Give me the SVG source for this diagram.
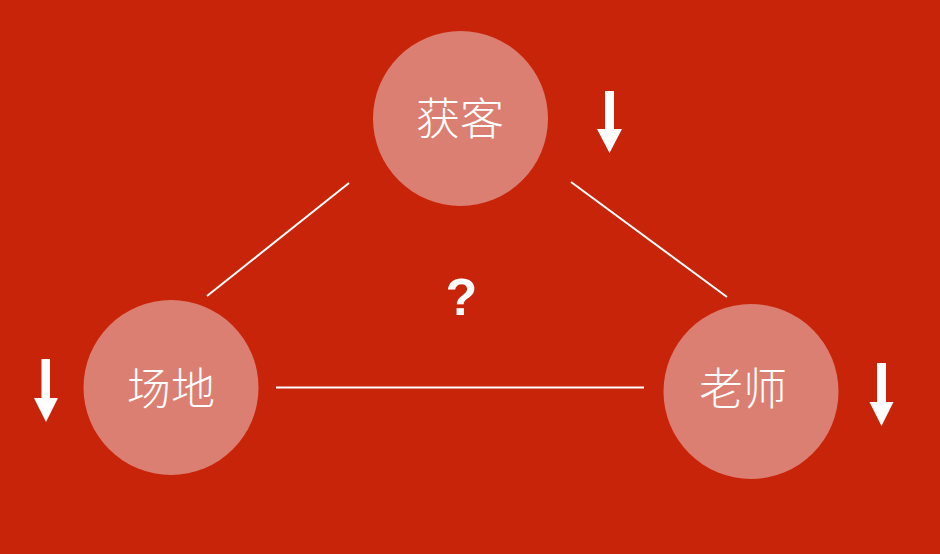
<svg xmlns="http://www.w3.org/2000/svg" width="940" height="554" viewBox="0 0 940 554">
<style>
.node{fill:#DB7F72}
.label{font-family:"Noto Sans CJK SC","Noto Sans",sans-serif;font-size:44px;font-weight:300;fill:#FFFFFF;text-anchor:middle}
.conn{stroke:#FFFFFF;stroke-width:2;fill:none}
.arrow{fill:#FFFFFF}
</style>
<rect x="0" y="0" width="940" height="554" fill="#C8240A"/>
<g id="connectors">
<line class="conn" x1="207" y1="296" x2="349" y2="183"/>
<line class="conn" x1="571" y1="182" x2="727" y2="297"/>
<line class="conn" x1="276" y1="387.5" x2="644" y2="387.5"/>
</g>
<g id="node-huoke">
<circle class="node" cx="460.5" cy="118.5" r="87.5"/>
<text class="label" x="460" y="135">获客</text>
</g>
<g id="node-changdi">
<circle class="node" cx="171" cy="387.5" r="87.5"/>
<text class="label" x="171" y="404.5">场地</text>
</g>
<g id="node-laoshi">
<circle class="node" cx="751" cy="391.5" r="87.5"/>
<text class="label" x="743" y="405">老师</text>
</g>
<g id="arrow-top">
<polygon class="arrow" points="605,91 614,91 614,129 622,129 609.5,153 597,129 605,129"/>
</g>
<g id="arrow-left">
<polygon class="arrow" points="41.5,359 50,359 50,398 58,398 46,422 34,398 41.5,398"/>
</g>
<g id="arrow-right">
<polygon class="arrow" points="877,363 886,363 886,402 893.5,402 881.5,426 869.5,402 877,402"/>
</g>
<text x="461.5" y="315" font-family="Liberation Sans, Arial, sans-serif" font-size="52" font-weight="bold" fill="#FFFFFF" text-anchor="middle">?</text>
</svg>
